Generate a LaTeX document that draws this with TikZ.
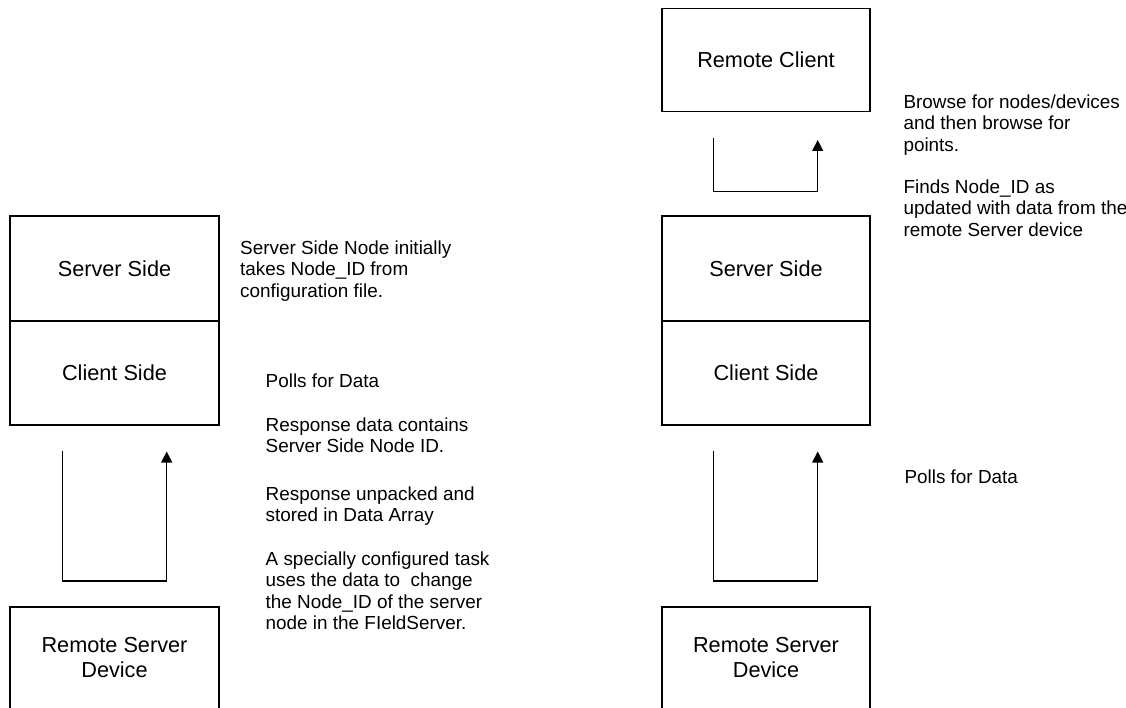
\documentclass[tikz,border=0pt]{standalone}
\usepackage{fontspec}
\setmainfont{Liberation Sans}
\usetikzlibrary{arrows.meta}

\tikzset{
  box/.style={draw, line width=1.2pt, inner sep=0pt, align=center,
    font=\fontsize{21.7}{25}\selectfont},
  % base anchor of a multi-line note sits on its last line
  note/.style={anchor=base west, inner sep=0pt, align=left,
    font=\fontsize{18.9}{21.3}\selectfont},
  flow/.style={draw, line width=1.2pt, -{Triangle[width=11pt,length=11pt]}},
}

\begin{document}
\begin{tikzpicture}[x=1pt,y=-1pt]
\useasboundingbox (0,0) rectangle (1126,708);
\clip (0,0) rectangle (1126,708);

% left stack
\node[box, minimum width=209pt, minimum height=105pt] (lserver) at (114.5,268.5) {Server Side};
\node[box, minimum width=209pt, minimum height=104pt] (lclient) at (114.5,373) {Client Side};
\node[box, minimum width=209pt, minimum height=102pt] (lremote) at (114.5,658) {Remote Server\\Device};

% right stack
\node[box, minimum width=208pt, minimum height=103.5pt] (rclient) at (766,60) {Remote Client};
\node[box, minimum width=208pt, minimum height=105pt] (rserver) at (766,268.5) {Server Side};
\node[box, minimum width=208pt, minimum height=104pt] (rcside) at (766,373) {Client Side};
\node[box, minimum width=208pt, minimum height=102pt] (rremote) at (766,658) {Remote Server\\Device};

% loop connectors (free ends)
\coordinate (la) at (62.3,451);
\coordinate (lb) at (166.7,451.5);
\coordinate (ra) at (713.3,451);
\coordinate (rb) at (817.7,451.5);
\coordinate (ta) at (713.3,138);
\coordinate (tb) at (817.7,140);

\draw[flow] (la) -- ++(0,130) -| (lb);
\draw[flow] (ra) -- ++(0,130) -| (rb);
\draw[flow] (ta) -- ++(0,53.7) -| (tb);

% annotations, left
\node[note] (n1) at (240,297.1) {Server Side Node initially\\takes Node\_ID from\\configuration file.};
\node[note] (n2) at (265.5,387.3) {Polls for Data};
\node[note] (n3) at (265.5,452.3) {Response data contains\\Server Side Node ID.};
\node[note] (n4) at (265.5,521.8) {Response unpacked and\\stored in Data Array};
\node[note] (n5) at (265.5,629.3) {A specially configured task\\uses the data to\ \ change\\the Node\_ID of the server\\node in the FIeldServer.};

% annotations, right
\node[note] (m1) at (903.3,151.3) {Browse for nodes/devices\\and then browse for\\points.};
\node[note] (m2) at (903.3,236.3) {Finds Node\_ID as\\updated with data from the\\remote Server device};
\node[note] (m3) at (904.3,483.7) {Polls for Data};
\end{tikzpicture}
\end{document}
